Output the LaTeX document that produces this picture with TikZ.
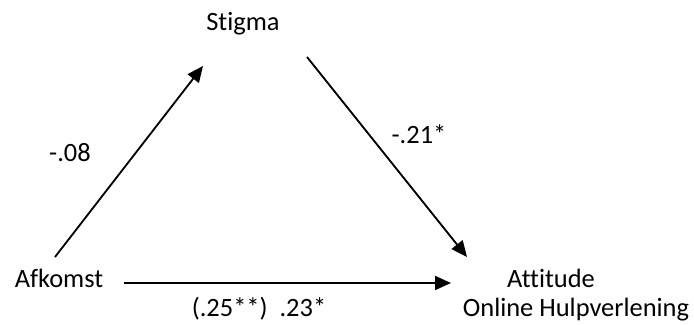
\documentclass[tikz,border=0pt]{standalone}
\usepackage{fontspec}
\setmainfont{Carlito}[Ligatures={NoCommon}]
\usepackage{tikz}
\usetikzlibrary{arrows.meta, positioning}

\begin{document}
\begin{tikzpicture}[
    varlabel/.style={inner sep=0pt, font=\fontsize{18.8}{22}\selectfont},
    coeflabel/.style={inner sep=0pt, font=\fontsize{18.8}{22}\selectfont},
    arrow/.style={-{Triangle[length=0.4cm, width=0.35cm]}, line width=1.3pt}
]
\useasboundingbox (0,0) rectangle (17.35,8.125);
%% Variables
\node[varlabel] (stigma)   at (6.075, 7.525) {Stigma};
\node[varlabel] (afkomst)  at (1.475, 1.175) {Afkomst};
\node[varlabel] (attitude) at (13.775, 1.175) {Attitude};
\node[varlabel] (online)   at (14.4, 0.38) {Online Hulpverlening};
%% Arrow end points
\coordinate (afk-up)    at (1.375, 1.7);
\coordinate (stig-in)   at (5.075, 6.475);
\coordinate (stig-out)  at (7.675, 6.7);
\coordinate (att-in)    at (11.675, 1.7);
\coordinate (afk-right) at (3.1, 1.05);
\coordinate (att-left)  at (11.275, 1.05);
%% Paths
\draw[arrow] (afk-up) -- (stig-in);
\draw[arrow] (stig-out) -- (att-in);
\draw[arrow] (afk-right) -- (att-left);
%% Coefficients
\node[coeflabel] (coefa) at (1.75, 4.3) {-.08};
\node[coeflabel] (coefb) at (10.475, 4.775) {-.21*};
\node[coeflabel] (coefc) at (6.475, 0.4) {(.25**)\ \ .23*};
\end{tikzpicture}
\end{document}
